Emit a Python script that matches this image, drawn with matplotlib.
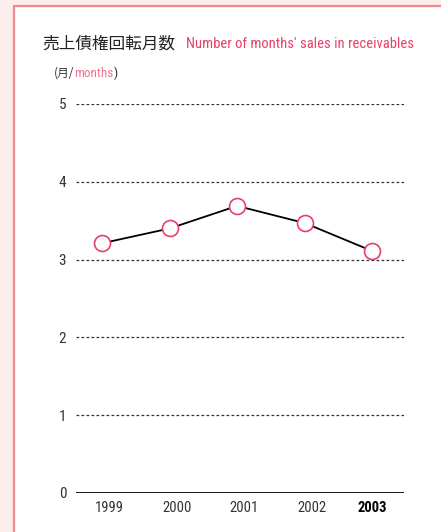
import matplotlib.pyplot as plt
import matplotlib.transforms as mtrans
from matplotlib.patches import Rectangle

years = ['1999', '2000', '2001', '2002', '2003']
months = [3.21, 3.40, 3.69, 3.47, 3.11]
yticks = [0, 1, 2, 3, 4, 5]

narrow = ['Roboto Condensed', 'Liberation Sans Narrow', 'Lato', 'DejaVu Sans']
jp = ['Noto Sans CJK JP', 'DejaVu Sans']
red = '#e8406a'

fig = plt.figure(figsize=(4.41, 5.32), dpi=100)
fig.patch.set_facecolor('#fdeeed')

# white panel with pink border
fig.patches.append(Rectangle((14 / 441, -0.1), 1.0, (532 - 6) / 532 + 0.1,
                             transform=fig.transFigure, facecolor='white',
                             edgecolor='#f08a8e', linewidth=1.6, zorder=-1))

ax = fig.add_axes([76 / 441, 39 / 532, 328 / 441, 389 / 532])
ax.set_zorder(2)
ax.set_facecolor('none')
x = list(range(len(years)))
ax.plot(x, months, color='black', linewidth=1.3, zorder=3)
ax.plot(x, months, 'o', markersize=11.5, markerfacecolor='white',
        markeredgecolor=red, markeredgewidth=1.2, zorder=4)

ax.set_xlim(-0.385, 4.47)
ax.set_ylim(0, 5)
ax.set_yticks(yticks)
ax.set_yticklabels([str(v) for v in yticks], family=narrow, fontsize=11, color='#333333')
for v in yticks[1:]:
    ax.axhline(v, color='#333333', linewidth=0.9, linestyle=(0, (2.2, 1.8)), zorder=1)
ax.axhline(0, color='black', linewidth=2, zorder=2)

ax.set_xticks(x)
ax.set_xticklabels(years, family=narrow, fontsize=10.5, color='#333333')
ax.tick_params(length=0)
ax.tick_params(axis='y', pad=7)
ax.tick_params(axis='x', pad=6)
labels = ax.get_xticklabels()
labels[-1].set_fontweight('bold')
labels[-1].set_color('black')
# year labels sit a little right of their points in the original
shift = mtrans.ScaledTranslation(7 / 100, 0, fig.dpi_scale_trans)
for lab in labels[:-1]:
    lab.set_transform(lab.get_transform() + shift)
for s in ax.spines.values():
    s.set_visible(False)

fig.text(42 / 441, 1 - 44 / 532, '売上債権回転月数', family=jp, fontsize=12,
         color='#222222', va='center')
fig.text(186 / 441, 1 - 44 / 532, "Number of months' sales in receivables",
         family=narrow, fontsize=10.5, color=red, va='center')
t1 = fig.text(54 / 441, 1 - 73 / 532, '(月/', family=jp, fontsize=8.5,
              color='#333333', va='center')
fig.canvas.draw()
bb = t1.get_window_extent()
t2 = fig.text(bb.x1 / 441, 1 - 73 / 532, 'months', family=narrow, fontsize=9.5,
              color='#f07090', va='center')
fig.canvas.draw()
bb2 = t2.get_window_extent()
fig.text(bb2.x1 / 441, 1 - 73 / 532, ')', family=narrow, fontsize=9.5,
         color='#333333', va='center')

fig.savefig('out.png', dpi=100, facecolor=fig.get_facecolor())
